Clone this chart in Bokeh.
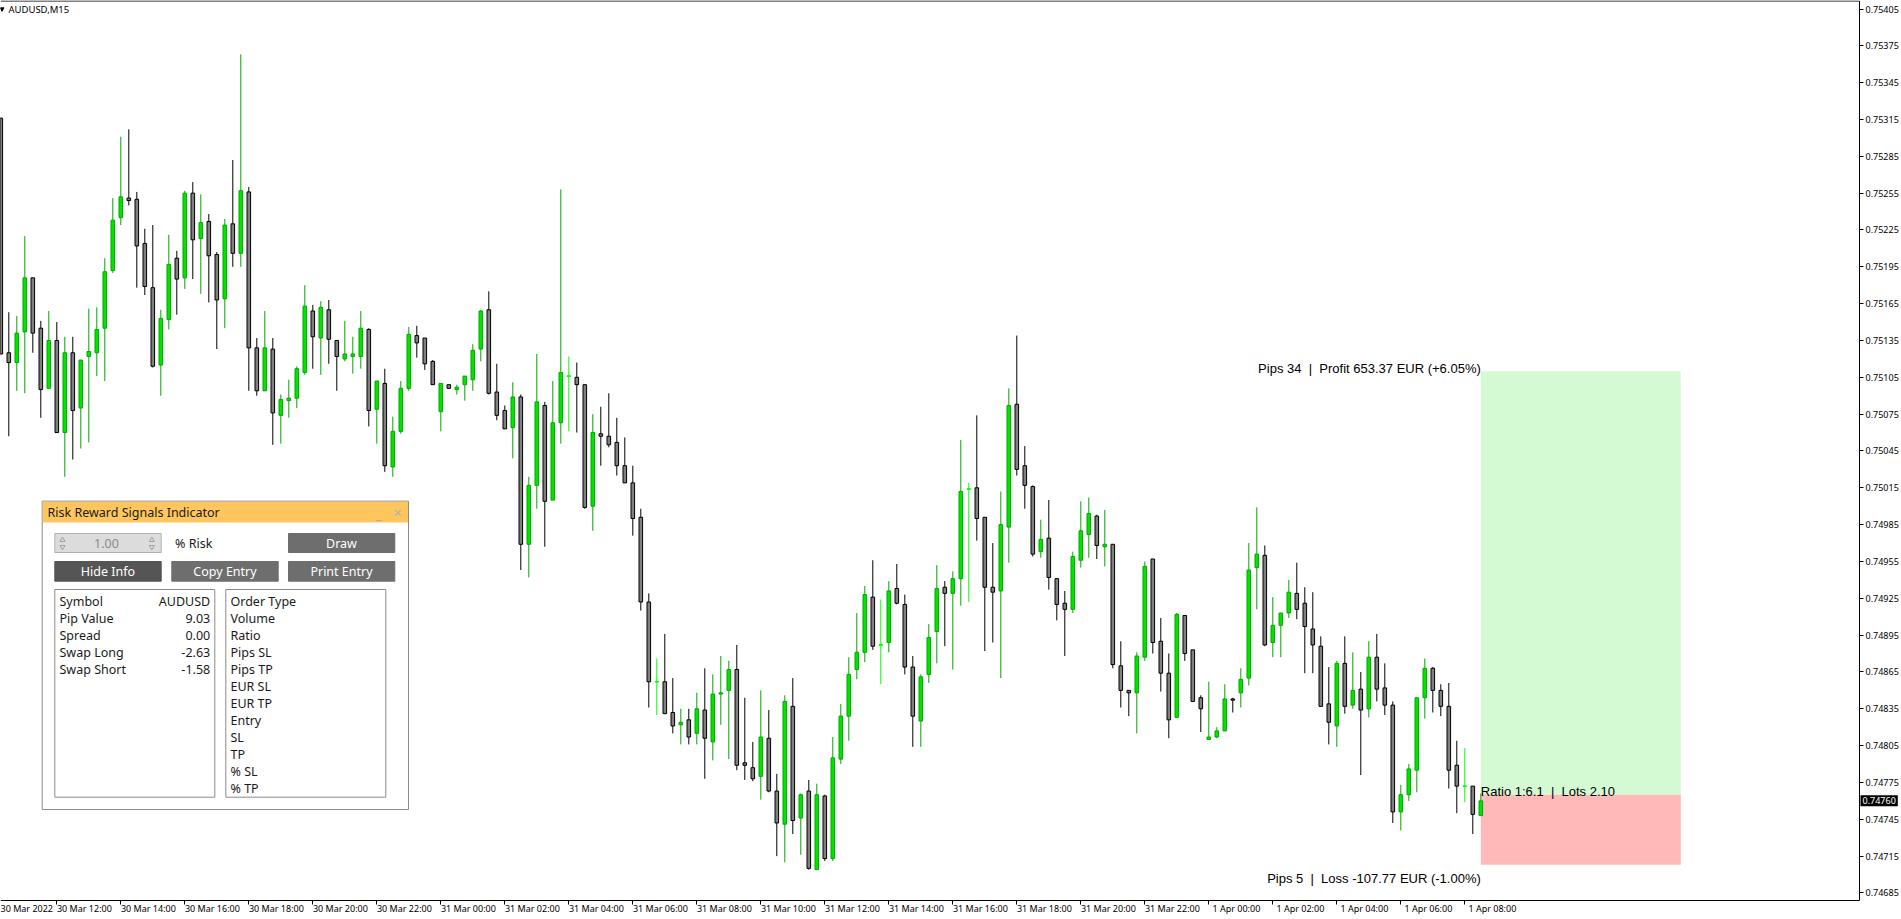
from bokeh.plotting import figure
from bokeh.models import Range1d, FixedTicker, PrintfTickFormatter, Label, ColumnDataSource
from bokeh.core.properties import value
from bokeh.embed import file_html
from bokeh.resources import INLINE

# ---------------- data ----------------
CHART_TITLE = "AUDUSD,M15"
FIRST_BAR = -7          # bar index of the first candle (bar 0 = 30 Mar 12:00, M15 bars)

OPEN = [
    0.75316, 0.75125, 0.75117, 0.75142, 0.75186, 0.75145, 0.75096,
    0.75135, 0.75060, 0.75125, 0.75080, 0.75122, 0.75125, 0.75145, 0.75192, 0.75235, 0.75251,
    0.75250, 0.75214, 0.75178, 0.75115, 0.75152, 0.75202, 0.75186, 0.75255, 0.75218, 0.75232,
    0.75205, 0.75169, 0.75230, 0.75206, 0.75256, 0.75129, 0.75094, 0.75128, 0.75074, 0.75086,
    0.75088, 0.75109, 0.75159, 0.75137, 0.75160, 0.75135, 0.75120, 0.75122, 0.75122, 0.75144,
    0.75079, 0.75100, 0.75032, 0.75061, 0.75096, 0.75139, 0.75137, 0.75118, 0.75077, 0.75099,
    0.75095, 0.75099, 0.75103, 0.75128, 0.75160, 0.75093, 0.75078, 0.75064, 0.75089, 0.74969,
    0.75017, 0.75082, 0.75005, 0.75068, 0.75106, 0.75105, 0.75099, 0.75000, 0.75059, 0.75057,
    0.75052, 0.75033, 0.75019, 0.74991, 0.74922, 0.74857, 0.74857, 0.74832, 0.74822, 0.74826,
    0.74815, 0.74834, 0.74808, 0.74847, 0.74850, 0.74867, 0.74791, 0.74787, 0.74780, 0.74811,
    0.74768, 0.74741, 0.74837, 0.74746, 0.74768, 0.74704, 0.74764, 0.74713, 0.74794, 0.74829,
    0.74867, 0.74881, 0.74926, 0.74887, 0.74889, 0.74933, 0.74920, 0.74869, 0.74825, 0.74863,
    0.74898, 0.74934, 0.74929, 0.74941, 0.75014, 0.75015, 0.74991, 0.74934, 0.74931, 0.74983,
    0.75083, 0.75033, 0.75016, 0.74963, 0.74974, 0.74941, 0.74921, 0.74916, 0.74956, 0.74977,
    0.74992, 0.74967, 0.74969, 0.74870, 0.74850, 0.74848, 0.74877, 0.74957, 0.74890, 0.74864,
    0.74828, 0.74911, 0.74883, 0.74844, 0.74810, 0.74812, 0.74817, 0.74843, 0.74848, 0.74860,
    0.74950, 0.74960, 0.74889, 0.74903, 0.74913, 0.74929, 0.74921, 0.74900, 0.74886, 0.74839,
    0.74821, 0.74872, 0.74838, 0.74851, 0.74835, 0.74877, 0.74852, 0.74838, 0.74751, 0.74765,
    0.74785, 0.74844, 0.74868, 0.74850, 0.74837, 0.74789, 0.74772, 0.74772, 0.74748,
]
HIGH = [
    0.75317, 0.75158, 0.75155, 0.75220, 0.75186, 0.75151, 0.75159,
    0.75150, 0.75138, 0.75138, 0.75119, 0.75161, 0.75162, 0.75202, 0.75251, 0.75301, 0.75307,
    0.75256, 0.75226, 0.75229, 0.75160, 0.75221, 0.75208, 0.75257, 0.75264, 0.75254, 0.75238,
    0.75207, 0.75234, 0.75282, 0.75368, 0.75260, 0.75137, 0.75159, 0.75137, 0.75091, 0.75103,
    0.75114, 0.75180, 0.75164, 0.75167, 0.75168, 0.75135, 0.75151, 0.75138, 0.75159, 0.75145,
    0.75102, 0.75112, 0.75073, 0.75102, 0.75146, 0.75147, 0.75137, 0.75119, 0.75100, 0.75099,
    0.75099, 0.75106, 0.75132, 0.75160, 0.75175, 0.75116, 0.75082, 0.75101, 0.75091, 0.75024,
    0.75124, 0.75085, 0.75102, 0.75258, 0.75122, 0.75117, 0.75099, 0.75075, 0.75081, 0.75092,
    0.75072, 0.75056, 0.75033, 0.74998, 0.74929, 0.74876, 0.74896, 0.74860, 0.74835, 0.74835,
    0.74848, 0.74868, 0.74863, 0.74878, 0.74874, 0.74887, 0.74844, 0.74808, 0.74850, 0.74834,
    0.74782, 0.74846, 0.74860, 0.74766, 0.74777, 0.74774, 0.74765, 0.74812, 0.74839, 0.74877,
    0.74913, 0.74935, 0.74956, 0.74924, 0.74939, 0.74953, 0.74928, 0.74878, 0.74863, 0.74904,
    0.74952, 0.74939, 0.74947, 0.75054, 0.75019, 0.75074, 0.74991, 0.74970, 0.75012, 0.75096,
    0.75139, 0.75049, 0.75017, 0.74989, 0.75005, 0.74941, 0.74931, 0.74963, 0.75004, 0.75007,
    0.74993, 0.74997, 0.74969, 0.74890, 0.74850, 0.74881, 0.74955, 0.74957, 0.74909, 0.74880,
    0.74913, 0.74911, 0.74883, 0.74846, 0.74857, 0.74820, 0.74855, 0.74844, 0.74868, 0.74970,
    0.74999, 0.74968, 0.74926, 0.74913, 0.74940, 0.74954, 0.74934, 0.74930, 0.74894, 0.74869,
    0.74874, 0.74894, 0.74881, 0.74865, 0.74890, 0.74896, 0.74872, 0.74841, 0.74773, 0.74790,
    0.74844, 0.74876, 0.74869, 0.74855, 0.74856, 0.74809, 0.74803, 0.74772, 0.74766,
]
LOW = [
    0.75123, 0.75057, 0.75094, 0.75092, 0.75125, 0.75072, 0.75096,
    0.75060, 0.75024, 0.75038, 0.75047, 0.75052, 0.75106, 0.75102, 0.75190, 0.75229, 0.75245,
    0.75178, 0.75172, 0.75113, 0.75090, 0.75144, 0.75156, 0.75177, 0.75185, 0.75173, 0.75166,
    0.75128, 0.75145, 0.75195, 0.75195, 0.75094, 0.75090, 0.75094, 0.75050, 0.75051, 0.75072,
    0.75080, 0.75107, 0.75112, 0.75107, 0.75116, 0.75094, 0.75118, 0.75108, 0.75112, 0.75065,
    0.75051, 0.75028, 0.75024, 0.75059, 0.75094, 0.75121, 0.75111, 0.75099, 0.75061, 0.75096,
    0.75091, 0.75086, 0.75094, 0.75118, 0.75091, 0.75070, 0.75063, 0.75039, 0.74948, 0.74942,
    0.74998, 0.74967, 0.75005, 0.75051, 0.75061, 0.75060, 0.74998, 0.74980, 0.75033, 0.75048,
    0.75025, 0.75019, 0.74976, 0.74915, 0.74836, 0.74830, 0.74831, 0.74815, 0.74806, 0.74806,
    0.74806, 0.74778, 0.74793, 0.74822, 0.74794, 0.74785, 0.74777, 0.74776, 0.74761, 0.74767,
    0.74715, 0.74710, 0.74733, 0.74716, 0.74704, 0.74704, 0.74711, 0.74711, 0.74790, 0.74809,
    0.74859, 0.74873, 0.74883, 0.74855, 0.74881, 0.74920, 0.74863, 0.74804, 0.74804, 0.74856,
    0.74872, 0.74886, 0.74867, 0.74919, 0.74922, 0.74972, 0.74882, 0.74889, 0.74860, 0.74954,
    0.75025, 0.74998, 0.74959, 0.74958, 0.74932, 0.74907, 0.74878, 0.74913, 0.74950, 0.74958,
    0.74957, 0.74951, 0.74868, 0.74836, 0.74829, 0.74815, 0.74874, 0.74880, 0.74849, 0.74811,
    0.74828, 0.74874, 0.74841, 0.74816, 0.74810, 0.74811, 0.74817, 0.74832, 0.74836, 0.74854,
    0.74916, 0.74886, 0.74877, 0.74877, 0.74909, 0.74908, 0.74864, 0.74864, 0.74837, 0.74806,
    0.74804, 0.74831, 0.74835, 0.74781, 0.74828, 0.74841, 0.74830, 0.74742, 0.74736, 0.74760,
    0.74767, 0.74827, 0.74832, 0.74829, 0.74770, 0.74750, 0.74759, 0.74733, 0.74748,
]
CLOSE = [
    0.75124, 0.75117, 0.75141, 0.75186, 0.75141, 0.75095, 0.75135,
    0.75060, 0.75125, 0.75078, 0.75119, 0.75126, 0.75144, 0.75191, 0.75233, 0.75252, 0.75249,
    0.75212, 0.75179, 0.75114, 0.75153, 0.75197, 0.75185, 0.75255, 0.75217, 0.75231, 0.75204,
    0.75168, 0.75229, 0.75206, 0.75257, 0.75129, 0.75094, 0.75129, 0.75076, 0.75087, 0.75088,
    0.75112, 0.75163, 0.75138, 0.75162, 0.75136, 0.75122, 0.75124, 0.75124, 0.75145, 0.75078,
    0.75102, 0.75033, 0.75061, 0.75096, 0.75140, 0.75133, 0.75116, 0.75099, 0.75100, 0.75096,
    0.75097, 0.75106, 0.75127, 0.75159, 0.75092, 0.75074, 0.75063, 0.75089, 0.74969, 0.75017,
    0.75085, 0.75004, 0.75068, 0.75109, 0.75106, 0.75099, 0.74999, 0.75060, 0.75057, 0.75050,
    0.75033, 0.75019, 0.74990, 0.74922, 0.74857, 0.74857, 0.74831, 0.74821, 0.74824, 0.74812,
    0.74835, 0.74811, 0.74847, 0.74848, 0.74867, 0.74789, 0.74789, 0.74778, 0.74812, 0.74768,
    0.74742, 0.74841, 0.74744, 0.74765, 0.74705, 0.74765, 0.74713, 0.74795, 0.74829, 0.74863,
    0.74881, 0.74928, 0.74886, 0.74887, 0.74931, 0.74921, 0.74869, 0.74829, 0.74861, 0.74893,
    0.74933, 0.74929, 0.74941, 0.75012, 0.75014, 0.74990, 0.74934, 0.74930, 0.74985, 0.75082,
    0.75030, 0.75017, 0.74961, 0.74973, 0.74942, 0.74920, 0.74916, 0.74959, 0.74980, 0.74994,
    0.74968, 0.74969, 0.74871, 0.74850, 0.74848, 0.74878, 0.74951, 0.74889, 0.74864, 0.74826,
    0.74912, 0.74880, 0.74841, 0.74835, 0.74812, 0.74817, 0.74843, 0.74842, 0.74859, 0.74948,
    0.74961, 0.74887, 0.74903, 0.74913, 0.74930, 0.74916, 0.74902, 0.74887, 0.74837, 0.74824,
    0.74872, 0.74837, 0.74850, 0.74834, 0.74877, 0.74851, 0.74838, 0.74751, 0.74765, 0.74786,
    0.74844, 0.74868, 0.74850, 0.74837, 0.74785, 0.74772, 0.74772, 0.74749, 0.74760,
]

Y_TICK_LABELS = ["0.74685", "0.74715", "0.74745", "0.74775", "0.74805", "0.74835", "0.74865",
                 "0.74895", "0.74925", "0.74955", "0.74985", "0.75015", "0.75045", "0.75075",
                 "0.75105", "0.75135", "0.75165", "0.75195", "0.75225", "0.75255", "0.75285",
                 "0.75315", "0.75345", "0.75375", "0.75405"]
X_TICK_LABELS = ["30 Mar 2022", "30 Mar 12:00", "30 Mar 14:00", "30 Mar 16:00", "30 Mar 18:00",
                 "30 Mar 20:00", "30 Mar 22:00", "31 Mar 00:00", "31 Mar 02:00", "31 Mar 04:00",
                 "31 Mar 06:00", "31 Mar 08:00", "31 Mar 10:00", "31 Mar 12:00", "31 Mar 14:00",
                 "31 Mar 16:00", "31 Mar 18:00", "31 Mar 20:00", "31 Mar 22:00", "1 Apr 00:00",
                 "1 Apr 02:00", "1 Apr 04:00", "1 Apr 06:00", "1 Apr 08:00"]
FIRST_TICK_BAR = -8
BARS_PER_TICK = 8

CURRENT_PRICE = 0.74760
ENTRY = 0.74765
TAKE_PROFIT = 0.75110
STOP_LOSS = 0.74708
BOX_BARS = 25
NB = "\u00a0"
PROFIT_TEXT = f"Pips 34 {NB}|{NB} Profit 653.37 EUR (+6.05%)"
RATIO_TEXT = f"Ratio 1:6.1 {NB}|{NB} Lots 2.10"
LOSS_TEXT = f"Pips 5 {NB}|{NB} Loss -107.77 EUR (-1.00%)"

PANEL_TITLE = "Risk Reward Signals Indicator"
RISK_VALUE = "1.00"
INFO_LABELS = ["Symbol", "Pip Value", "Spread", "Swap Long", "Swap Short"]
INFO_VALUES = ["AUDUSD", "9.03", "0.00", "-2.63", "-1.58"]
ORDER_LABELS = ["Order Type", "Volume", "Ratio", "Pips SL", "Pips TP", "EUR SL", "EUR TP",
                "Entry", "SL", "TP", "% SL", "% TP"]

# ---------------- geometry helpers (reference pixel -> data) ----------------
BAR0_PX, BAR_PX = 56.3, 8.0
PRICE_REF, PRICE_REF_PX, PX_PER_PRICE = 0.75405, 8.5, 122770.0


def bx(px):
    return (px - BAR0_PX) / BAR_PX


def py(px):
    return PRICE_REF - (px - PRICE_REF_PX) / PX_PER_PRICE


AX_FONT_NAME = "Noto Sans"
AX_FONT = value(AX_FONT_NAME)
AX_SIZE = "9px"
UI_FONT = value("Noto Sans")
UI_SIZE = "12.5px"
TRADE_FONT = value("Liberation Sans")
TRADE_SIZE = "13px"

# chart area edges (reference pixels): right price scale at 1859, time scale at 900
AXIS_X = bx(1859)
AXIS_Y = py(900)

p = figure(width=1901, height=919, output_backend="svg", toolbar_location=None,
           x_range=Range1d(bx(0), bx(1901)), y_range=Range1d(py(919), py(0)),
           y_axis_location="right", min_border_left=0, min_border_top=0,
           min_border_right=0, min_border_bottom=0)
p.xgrid.visible = False
p.ygrid.visible = False
p.outline_line_color = None
p.background_fill_color = "white"
p.border_fill_color = "white"

# x axis: real tick marks as minor ticks at the bar, labels to their right
tick_bars = [FIRST_TICK_BAR + BARS_PER_TICK * n for n in range(len(X_TICK_LABELS))]
LABEL_SHIFT = 3.45
centers = [b + LABEL_SHIFT for b in tick_bars]
xa = p.xaxis[0]
xa.fixed_location = AXIS_Y
xa.axis_label = None
xa.ticker = FixedTicker(ticks=centers, minor_ticks=tick_bars)
xa.major_label_overrides = {c: lab for c, lab in zip(centers, X_TICK_LABELS)}
xa.major_tick_line_color = None
xa.major_tick_out = 0
xa.major_tick_in = 0
xa.minor_tick_line_color = "black"
xa.minor_tick_out = 4
xa.minor_tick_in = 0
xa.major_label_standoff = -3
xa.axis_line_color = None
xa.major_label_text_font = AX_FONT_NAME
xa.major_label_text_font_size = AX_SIZE
xa.major_label_text_color = "black"

ya = p.yaxis[0]
ya.fixed_location = AXIS_X
ya.axis_label = None
ya.ticker = FixedTicker(ticks=[float(s) for s in Y_TICK_LABELS])
ya.formatter = PrintfTickFormatter(format="%.5f")
ya.major_tick_out = 4
ya.major_tick_in = 0
ya.minor_tick_line_color = None
ya.major_label_standoff = 2
ya.axis_line_color = None
ya.major_label_text_font = AX_FONT_NAME
ya.major_label_text_font_size = AX_SIZE
ya.major_label_text_color = "black"

# chart frame lines (top, right price scale, bottom time scale)
p.segment(x0=[bx(0), AXIS_X, bx(0)], y0=[py(0.5), py(0.5), AXIS_Y],
          x1=[AXIS_X, AXIS_X, AXIS_X], y1=[py(0.5), AXIS_Y, AXIS_Y],
          line_color="black", line_width=1)

# ---------------- risk / reward boxes ----------------
last_bar = FIRST_BAR + len(CLOSE) - 1
p.quad(left=[last_bar], right=[last_bar + BOX_BARS], bottom=[ENTRY], top=[TAKE_PROFIT],
       fill_color="#D4FAD4", line_color=None)
p.quad(left=[last_bar], right=[last_bar + BOX_BARS], bottom=[STOP_LOSS], top=[ENTRY],
       fill_color="#FFB9B9", line_color=None)

# ---------------- candles ----------------
BULL_LINE, BULL_FILL = "#00A800", "#00E400"
BEAR_LINE, BEAR_FILL = "#000000", "#808080"
DOJI = "#00FF00"
xs, tops, bots, lines, fills = [], [], [], [], []
for n, (o, c) in enumerate(zip(OPEN, CLOSE)):
    xs.append(FIRST_BAR + n)
    t, b = max(o, c), min(o, c)
    if t - b < 0.000005:
        t, b = t + 0.0000025, b - 0.0000025
    tops.append(t)
    bots.append(b)
    if o == c:
        lines.append(DOJI); fills.append(DOJI)
    elif c > o:
        lines.append(BULL_LINE); fills.append(BULL_FILL)
    else:
        lines.append(BEAR_LINE); fills.append(BEAR_FILL)
src = ColumnDataSource(dict(x=xs, high=HIGH, low=LOW, top=tops, bottom=bots,
                            line=lines, fill=fills))
p.segment(x0="x", x1="x", y0="low", y1="high", line_color="line", line_width=1, source=src)
p.vbar(x="x", width=0.45, top="top", bottom="bottom", fill_color="fill", line_color="line",
       line_width=1, source=src)

# trade texts
p.text(x=[last_bar], y=[TAKE_PROFIT], text=[PROFIT_TEXT], text_align="right",
       text_baseline="alphabetic", y_offset=-3, text_font=TRADE_FONT,
       text_font_size=TRADE_SIZE, text_color="black")
p.text(x=[last_bar], y=[ENTRY], text=[RATIO_TEXT], text_align="left",
       text_baseline="alphabetic", y_offset=-3, text_font=TRADE_FONT,
       text_font_size=TRADE_SIZE, text_color="black")
p.text(x=[last_bar], y=[STOP_LOSS], text=[LOSS_TEXT], text_align="right",
       text_baseline="alphabetic", y_offset=14, text_font=TRADE_FONT,
       text_font_size=TRADE_SIZE, text_color="black")

# chart title
p.scatter(x=[bx(1.5)], y=[py(8.5)], marker="inverted_triangle", size=4,
          fill_color="black", line_color="black")
p.text(x=[bx(8)], y=[py(9)], text=[CHART_TITLE], text_align="left", text_baseline="middle",
       text_font=AX_FONT, text_font_size="9.5px", text_color="black")

# current price tag on the axis
p.add_layout(Label(x=AXIS_X, y=CURRENT_PRICE, text=f"{CURRENT_PRICE:.5f}", x_offset=1,
                   text_baseline="middle", text_align="left", text_color="white",
                   background_fill_color="black", text_font=AX_FONT_NAME,
                   text_font_size=AX_SIZE, padding=2))

# ---------------- panel (drawn in reference pixel positions) ----------------


def box(x0, y0, x1, y1, fill, line=None):
    p.quad(left=[bx(x0)], right=[bx(x1)], top=[py(y0)], bottom=[py(y1)],
           fill_color=fill, line_color=line, line_width=1)


def txt(x, y, s, color="#1a1a1a", align="left", size=UI_SIZE):
    p.text(x=[bx(x)], y=[py(y)], text=[s], text_align=align, text_baseline="middle",
           text_font=UI_FONT, text_font_size=size, text_color=color)


box(41.7, 500.7, 408, 809, "white", "#8C8C8C")
box(42.2, 501.2, 407.5, 522, "#FFC65E")
txt(47, 512, PANEL_TITLE)
txt(378, 514, "_", color="#A8A8A8", align="center")
txt(397, 512, "✕", color="#B0B0B0", align="center", size="11px")

box(54.3, 533, 160.7, 552, "#DCDCDC", "#AAB4C0")
txt(106, 543, RISK_VALUE, color="#8A8A8A", align="center")
for ax_ in (62.0, 151.3):
    p.scatter(x=[bx(ax_)], y=[py(539.5)], marker="triangle", size=5,
              fill_color=None, line_color="#A0A0A0")
    p.scatter(x=[bx(ax_)], y=[py(546.5)], marker="inverted_triangle", size=5,
              fill_color=None, line_color="#A0A0A0")
txt(174.5, 542.5, "% Risk")
box(288, 533, 394.3, 552, "#6E6E6E", "#6E6E6E")
txt(341, 543, "Draw", color="white", align="center")

box(54.3, 561, 160.7, 580.7, "#555555", "#555555")
txt(107.5, 571, "Hide Info", color="white", align="center")
box(171.3, 561, 277.7, 580.7, "#6E6E6E", "#6E6E6E")
txt(224.5, 571, "Copy Entry", color="white", align="center")
box(288, 561, 394.3, 580.7, "#6E6E6E", "#6E6E6E")
txt(341, 571, "Print Entry", color="white", align="center")

box(54.3, 589, 214.3, 796.7, "white", "#8A8A8A")
box(225.3, 589, 385.3, 796.7, "white", "#8A8A8A")
ROW0, ROW_H = 600.7, 17.0
for j, (lab, val) in enumerate(zip(INFO_LABELS, INFO_VALUES)):
    txt(59, ROW0 + ROW_H * j, lab)
    txt(209.7, ROW0 + ROW_H * j, val, align="right")
for j, lab in enumerate(ORDER_LABELS):
    txt(230, ROW0 + ROW_H * j, lab)

open("out.html", "w").write(file_html(p, INLINE))
